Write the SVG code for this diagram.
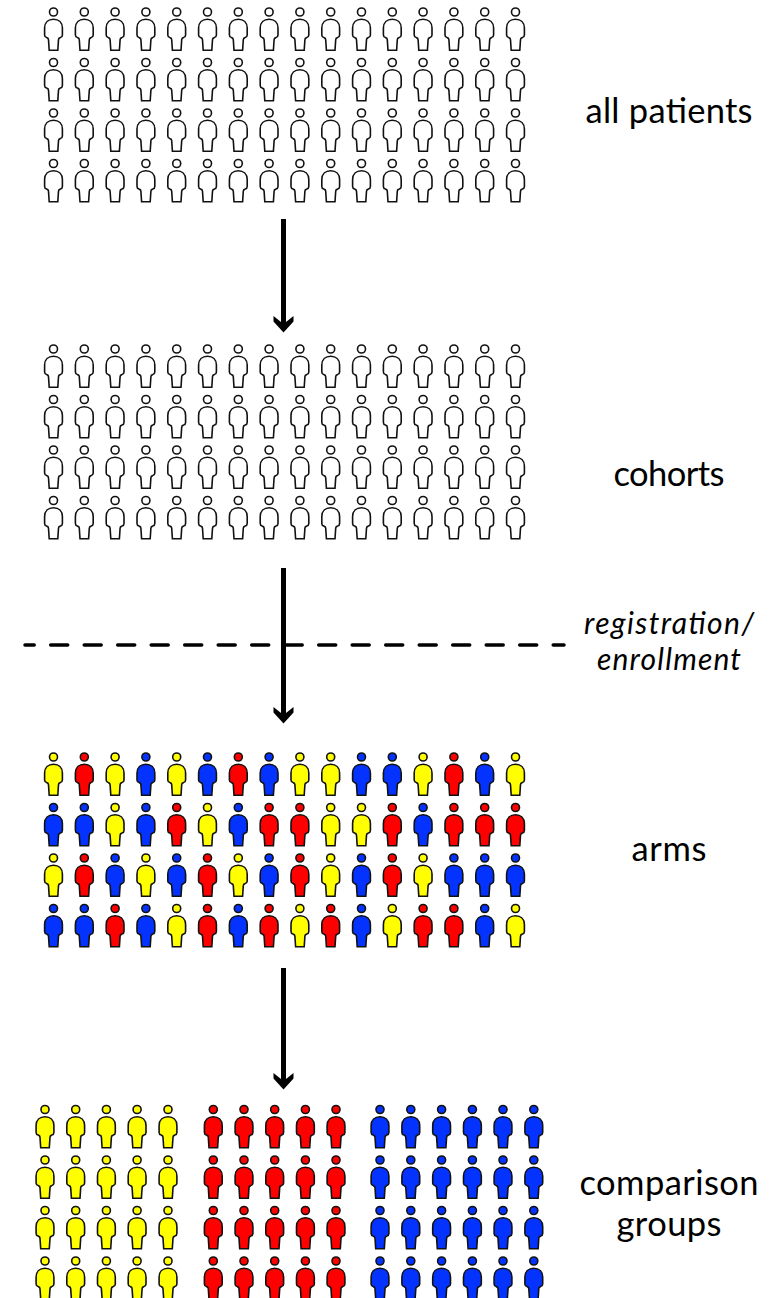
<svg xmlns="http://www.w3.org/2000/svg" width="782" height="1298" viewBox="0 0 782 1298">
<style>
.o{stroke:#111;stroke-width:1.6}
.w{fill:#fff}.y{fill:#ff0}.r{fill:#f00}.b{fill:#0433ff}
.t{font-family:"Lato","Liberation Sans",sans-serif;font-size:34.5px;fill:#000;text-anchor:middle}
.i{font-family:"Lato","Liberation Sans",sans-serif;font-size:30px;font-style:italic;fill:#000;text-anchor:middle}
.c{fill:none;stroke:#000}
</style>
<defs>
<g id="p"><circle class="o" cx="0" cy="0" r="4"/><path class="o" d="M-4.300 38.200L-5 27.800Q-5 26-6.800 25.600Q-8.900 25-8.900 23V16C-8.900 10.500-5.200 7.200 0 7.200C5.200 7.200 8.900 10.500 8.900 16V23Q8.900 25 6.800 25.600Q5 26 5 27.800L4.300 38.200Z"/></g>
<g id="wr" class="w"><use href="#p" x="53.500"/><use href="#p" x="84.300"/><use href="#p" x="115.100"/><use href="#p" x="145.900"/><use href="#p" x="176.700"/><use href="#p" x="207.500"/><use href="#p" x="238.300"/><use href="#p" x="269.100"/><use href="#p" x="299.900"/><use href="#p" x="330.700"/><use href="#p" x="361.500"/><use href="#p" x="392.300"/><use href="#p" x="423.100"/><use href="#p" x="453.900"/><use href="#p" x="484.700"/><use href="#p" x="515.500"/></g>
<g id="cr"><g class="y"><use href="#p" x="45"/><use href="#p" x="75.700"/><use href="#p" x="106.400"/><use href="#p" x="137.100"/><use href="#p" x="168"/></g><g class="r"><use href="#p" x="213.300"/><use href="#p" x="244"/><use href="#p" x="274.700"/><use href="#p" x="305.400"/><use href="#p" x="336"/></g><g class="b"><use href="#p" x="380"/><use href="#p" x="410.800"/><use href="#p" x="441.600"/><use href="#p" x="472.400"/><use href="#p" x="503"/><use href="#p" x="533.800"/></g></g>
<path id="h" d="M273.500 0L283.500 8L293.500 0V5.500L283.500 16.500L273.500 5.500Z" fill="#000"/>
</defs>
<rect width="782" height="1298" fill="#fff"/>
<g id="connectors">
<path class="c" stroke-width="5" d="M283.500 219V325"/>
<use href="#h" y="316"/>
<path class="c" stroke-width="5" d="M283.500 568V716"/>
<use href="#h" y="707"/>
<path class="c" stroke-width="5" d="M283.500 968V1081"/>
<use href="#h" y="1073"/>
<path class="c" stroke-width="3.500" stroke-linecap="round" stroke-dasharray="17 16.500" stroke-dashoffset="7.800" d="M25 645H564"/>
</g>
<g id="all-patients">
<use href="#wr" y="12"/><use href="#wr" y="62.500"/><use href="#wr" y="113"/><use href="#wr" y="163.500"/>
</g>
<g id="cohorts">
<use href="#wr" y="349"/><use href="#wr" y="399.500"/><use href="#wr" y="450"/><use href="#wr" y="500.500"/>
</g>
<g id="arms">
<use href="#p" class="y" x="53.500" y="757"/><use href="#p" class="r" x="84.300" y="757"/><use href="#p" class="y" x="115.100" y="757"/><use href="#p" class="b" x="145.900" y="757"/><use href="#p" class="y" x="176.700" y="757"/><use href="#p" class="b" x="207.500" y="757"/><use href="#p" class="r" x="238.300" y="757"/><use href="#p" class="b" x="269.100" y="757"/><use href="#p" class="y" x="299.900" y="757"/><use href="#p" class="y" x="330.700" y="757"/><use href="#p" class="b" x="361.500" y="757"/><use href="#p" class="b" x="392.300" y="757"/><use href="#p" class="y" x="423.100" y="757"/><use href="#p" class="r" x="453.900" y="757"/><use href="#p" class="b" x="484.700" y="757"/><use href="#p" class="y" x="515.500" y="757"/>
<use href="#p" class="b" x="53.500" y="807.500"/><use href="#p" class="b" x="84.300" y="807.500"/><use href="#p" class="y" x="115.100" y="807.500"/><use href="#p" class="b" x="145.900" y="807.500"/><use href="#p" class="r" x="176.700" y="807.500"/><use href="#p" class="y" x="207.500" y="807.500"/><use href="#p" class="b" x="238.300" y="807.500"/><use href="#p" class="r" x="269.100" y="807.500"/><use href="#p" class="r" x="299.900" y="807.500"/><use href="#p" class="y" x="330.700" y="807.500"/><use href="#p" class="y" x="361.500" y="807.500"/><use href="#p" class="r" x="392.300" y="807.500"/><use href="#p" class="b" x="423.100" y="807.500"/><use href="#p" class="r" x="453.900" y="807.500"/><use href="#p" class="r" x="484.700" y="807.500"/><use href="#p" class="r" x="515.500" y="807.500"/>
<use href="#p" class="y" x="53.500" y="858"/><use href="#p" class="r" x="84.300" y="858"/><use href="#p" class="b" x="115.100" y="858"/><use href="#p" class="y" x="145.900" y="858"/><use href="#p" class="b" x="176.700" y="858"/><use href="#p" class="r" x="207.500" y="858"/><use href="#p" class="y" x="238.300" y="858"/><use href="#p" class="b" x="269.100" y="858"/><use href="#p" class="r" x="299.900" y="858"/><use href="#p" class="y" x="330.700" y="858"/><use href="#p" class="b" x="361.500" y="858"/><use href="#p" class="r" x="392.300" y="858"/><use href="#p" class="y" x="423.100" y="858"/><use href="#p" class="b" x="453.900" y="858"/><use href="#p" class="b" x="484.700" y="858"/><use href="#p" class="b" x="515.500" y="858"/>
<use href="#p" class="b" x="53.500" y="908.500"/><use href="#p" class="b" x="84.300" y="908.500"/><use href="#p" class="r" x="115.100" y="908.500"/><use href="#p" class="b" x="145.900" y="908.500"/><use href="#p" class="y" x="176.700" y="908.500"/><use href="#p" class="r" x="207.500" y="908.500"/><use href="#p" class="b" x="238.300" y="908.500"/><use href="#p" class="r" x="269.100" y="908.500"/><use href="#p" class="y" x="299.900" y="908.500"/><use href="#p" class="r" x="330.700" y="908.500"/><use href="#p" class="b" x="361.500" y="908.500"/><use href="#p" class="y" x="392.300" y="908.500"/><use href="#p" class="r" x="423.100" y="908.500"/><use href="#p" class="r" x="453.900" y="908.500"/><use href="#p" class="b" x="484.700" y="908.500"/><use href="#p" class="y" x="515.500" y="908.500"/>
</g>
<g id="comparison-groups">
<use href="#cr" y="1109.500"/><use href="#cr" y="1160"/><use href="#cr" y="1210.500"/><use href="#cr" y="1261"/>
</g>
<g id="labels">
<text class="t" x="669" y="123" textLength="167">all patients</text>
<text class="t" x="669" y="486" textLength="111">cohorts</text>
<text class="i" x="669" y="634" textLength="170">registration/</text>
<text class="i" x="669" y="670" textLength="144">enrollment</text>
<text class="t" x="669" y="861" textLength="75">arms</text>
<text class="t" x="669" y="1195" textLength="179">comparison</text>
<text class="t" x="669" y="1236" textLength="105">groups</text>
</g>
</svg>
